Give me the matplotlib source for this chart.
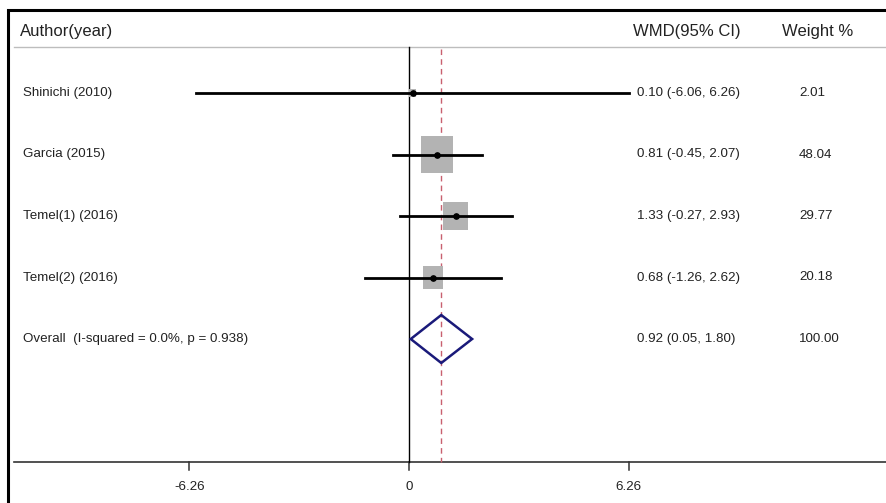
import numpy as np
import matplotlib
matplotlib.use('Agg')
import matplotlib.pyplot as plt
from matplotlib.patches import Rectangle, Polygon
from matplotlib.transforms import blended_transform_factory

# data
studies = ['Shinichi (2010)', 'Garcia (2015)', 'Temel(1) (2016)', 'Temel(2) (2016)']
wmd = [0.10, 0.81, 1.33, 0.68]
lo = [-6.06, -0.45, -0.27, -1.26]
hi = [6.26, 2.07, 2.93, 2.62]
weight = [2.01, 48.04, 29.77, 20.18]
overall_label = 'Overall  (I-squared = 0.0%, p = 0.938)'
overall = (0.92, 0.05, 1.80)
xticks = [-6.26, 0, 6.26]

narrow = ['Liberation Sans Narrow', 'Liberation Sans', 'DejaVu Sans']
regular = ['Liberation Sans', 'DejaVu Sans']
fs = 9.6

W, H = 886, 503
fig = plt.figure(figsize=(W / 100, H / 100), dpi=100)
ax = fig.add_axes([0, 0, 1, 1])
ax.axis('off')

# x: 0 at px 409, 35.07 px per unit ; y: rows 61.5 px apart, first at px 93
px_unit = 35.07
x0 = 409
ax.set_xlim(-x0 / px_unit, (W - x0) / px_unit)
row_px = 61.5
ax.set_ylim((H - 93) / row_px, -93 / row_px)

fx = lambda p: p / W  # pixel -> axes fraction
tr = blended_transform_factory(ax.transAxes, ax.transData)

# outer frame (cut off at right/bottom)
fig.patches.append(Rectangle((8 / W, -0.05), 1.2, 1 - 10 / H + 0.05,
                             transform=fig.transFigure, fill=False,
                             ec='black', lw=2.2))

# header
head_y = -1.0
ax.text(fx(20), head_y, 'Author(year)', transform=tr, ha='left', va='center',
        fontsize=12, family=regular, color='#222222')
ax.text(fx(687), head_y, 'WMD(95% CI)', transform=tr, ha='center', va='center',
        fontsize=12, family=regular, color='#222222')
ax.text(fx(818), head_y, 'Weight %', transform=tr, ha='center', va='center',
        fontsize=12, family=regular, color='#222222')
ax.plot([fx(14), 1], [-0.75, -0.75], transform=tr, color='#bdbdbd', lw=1)

# axis line and ticks
y_axis = 6.0
ax.plot([fx(14), 1], [y_axis, y_axis], transform=tr, color='#333333', lw=1.2)
for t in xticks:
    ax.plot([t, t], [y_axis, y_axis + 0.13], color='#333333', lw=1.1)
    ax.text(t, y_axis + 0.4, f'{t:g}', ha='center', va='center',
            fontsize=fs, family=narrow, color='#222222')

# null line and overall line
ax.plot([0, 0], [-0.75, y_axis], color='black', lw=1)
ax.plot([overall[0]] * 2, [-0.72, y_axis], color='#c8606f', lw=1, ls=(0, (4, 3)))

# studies
for i, (name, m, l, h, w) in enumerate(zip(studies, wmd, lo, hi, weight)):
    side_x = 4.6 * np.sqrt(w) / px_unit
    side_y = 5.3 * np.sqrt(w) / row_px
    ax.add_patch(Rectangle((m - side_x / 2, i - side_y / 2), side_x, side_y,
                           color='#b3b3b3', lw=0, zorder=2))
    ax.plot([l, h], [i, i], color='black', lw=2, zorder=3)
    ax.plot(m, i, 'o', color='black', ms=3.8, zorder=4)
    ax.text(fx(23), i, name, transform=tr, ha='left', va='center',
            fontsize=fs, family=narrow, color='#222222')
    ax.text(fx(637), i, f'{m:.2f} ({l:.2f}, {h:.2f})', transform=tr,
            ha='left', va='center', fontsize=fs, family=narrow, color='#222222')
    ax.text(fx(799), i, f'{w:.2f}', transform=tr, ha='left', va='center',
            fontsize=fs, family=narrow, color='#222222')

# overall diamond
k = len(studies)
m, l, h = overall
dh = 0.39
ax.add_patch(Polygon([(l, k), (m, k - dh), (h, k), (m, k + dh)], closed=True,
                     fill=False, ec='#1a1a7a', lw=1.8, zorder=3))
ax.text(fx(23), k, overall_label, transform=tr, ha='left', va='center',
        fontsize=fs, family=narrow, color='#222222')
ax.text(fx(637), k, f'{m:.2f} ({l:.2f}, {h:.2f})', transform=tr,
        ha='left', va='center', fontsize=fs, family=narrow, color='#222222')
ax.text(fx(799), k, '100.00', transform=tr, ha='left', va='center',
        fontsize=fs, family=narrow, color='#222222')

fig.savefig('out.png', dpi=100)
